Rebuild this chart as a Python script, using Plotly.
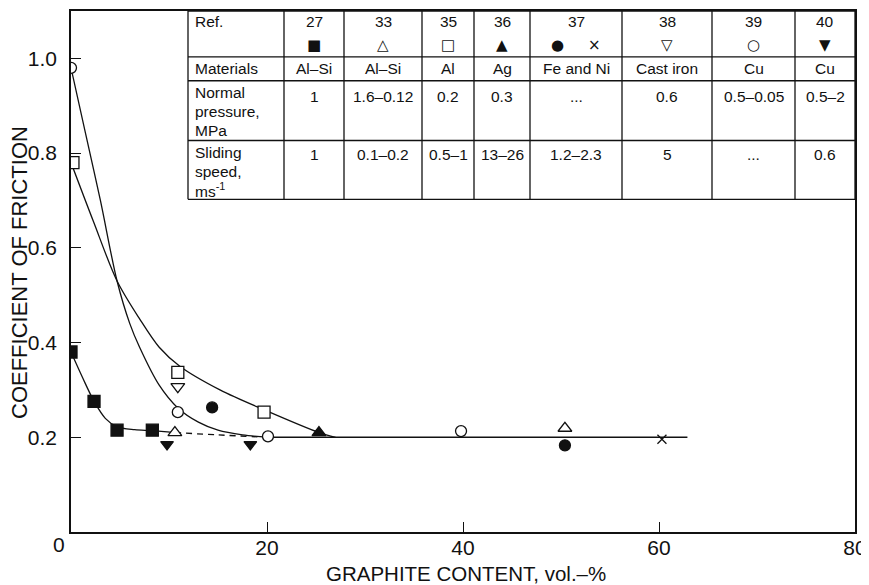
import plotly.graph_objects as go

# ---------------- data ----------------
# fitted curves
curve_cu_x = [0, 1.5, 3, 4.7, 6, 7, 9, 10.9, 13, 15, 17.5, 20]
curve_cu_y = [0.98, 0.84, 0.70, 0.53, 0.44, 0.39, 0.31, 0.262, 0.232, 0.215, 0.205, 0.2]
curve_al_x = [0, 2.3, 4.7, 7, 9, 11.1, 15.2, 19.7, 25.3, 27]
curve_al_y = [0.78, 0.655, 0.53, 0.45, 0.39, 0.35, 0.30, 0.258, 0.21, 0.2]
curve_alsi_x = [0, 1.2, 2.35, 3.5, 4.7, 6.5, 8.3, 10.6]
curve_alsi_y = [0.38, 0.325, 0.276, 0.24, 0.222, 0.216, 0.214, 0.21]
dash_x = [10.6, 15, 20]
dash_y = [0.21, 0.205, 0.2]
flat_x = [20, 62.9]
flat_y = [0.2, 0.2]

ref27_x = [0, 2.35, 4.7, 8.3];        ref27_y = [0.38, 0.276, 0.215, 0.215]
ref33_x = [10.6, 50.4];               ref33_y = [0.21, 0.219]
ref35_x = [0.2, 10.9, 19.7];          ref35_y = [0.78, 0.337, 0.253]
ref36_x = [25.3];                     ref36_y = [0.21]
ref37a_x = [14.4, 50.4];              ref37a_y = [0.263, 0.183]
ref37b_x = [60.3];                    ref37b_y = [0.196]
ref38_x = [10.9];                     ref38_y = [0.307]
ref39_x = [0, 10.9, 20.1, 39.8];      ref39_y = [0.98, 0.253, 0.202, 0.213]
ref40_x = [9.8, 18.3];                ref40_y = [0.185, 0.185]

x_ticks = [20, 40, 60, 80]
x_ticklabels = ["20", "40", "60", "80"]
y_ticks = [0.2, 0.4, 0.6, 0.8, 1.0]
y_ticklabels = ["0.2", "0.4", "0.6", "0.8", "1.0"]

tbl_refs = ["27", "33", "35", "36", "37", "38", "39", "40"]
tbl_syms = ["■", "△", "□", "▲", "●     ×", "▽", "○", "▼"]
tbl_materials = ["Al–Si", "Al–Si", "Al", "Ag", "Fe and Ni", "Cast iron", "Cu", "Cu"]
tbl_pressure = ["1", "1.6–0.12", "0.2", "0.3", "...", "0.6", "0.5–0.05", "0.5–2"]
tbl_speed = ["1", "0.1–0.2", "0.5–1", "13–26", "1.2–2.3", "5", "...", "0.6"]

# ---------------- layout geometry (page pixels) ----------------
OFF = 8  # page body margin
W, H = 869 - OFF, 585 - OFF
PL, PR, PT, PB = 71, 855, 9, 532
FONT = "Liberation Sans, Arial, sans-serif"

def px(x):
    return (x - PL) / (PR - PL)

def py(y):
    return (PB - y) / (PB - PT)

fig = go.Figure()
black = "#111111"

def line(xs, ys, dash="solid"):
    fig.add_trace(go.Scatter(x=xs, y=ys, mode="lines", line=dict(color=black, width=1.3, shape="spline", smoothing=0.9, dash=dash),
                             hoverinfo="skip", showlegend=False))

line(curve_cu_x, curve_cu_y)
line(curve_al_x, curve_al_y)
line(curve_alsi_x, curve_alsi_y)
line(dash_x, dash_y, dash="6px,5px")
line(flat_x, flat_y)

def pts(xs, ys, symbol, size, filled=True):
    fig.add_trace(go.Scatter(x=xs, y=ys, mode="markers", showlegend=False,
                             marker=dict(symbol=symbol, size=size,
                                         color=black if filled else "white",
                                         line=dict(color=black, width=1.3))))

pts(ref27_x, ref27_y, "square", 12)
pts(ref33_x, ref33_y, "triangle-up", 12, filled=False)
pts(ref35_x, ref35_y, "square", 12, filled=False)
pts(ref36_x, ref36_y, "triangle-up", 12)
pts(ref37a_x, ref37a_y, "circle", 11)
fig.add_trace(go.Scatter(x=ref37b_x, y=ref37b_y, mode="markers", showlegend=False,
                         marker=dict(symbol="x-thin", size=9, line=dict(color=black, width=1.3))))
pts(ref38_x, ref38_y, "triangle-down", 12, filled=False)
pts(ref39_x, ref39_y, "circle", 11, filled=False)
pts(ref40_x, ref40_y, "triangle-down", 11)

shapes = []
annotations = []

# ---------------- table ----------------
col_edges = [188, 284, 344, 422, 474, 530, 622, 712, 795, 855]
row_edges = [9, 55, 79, 139, 198]
for xe in col_edges:
    shapes.append(dict(type="line", xref="paper", yref="paper", x0=px(xe), x1=px(xe),
                       y0=py(row_edges[0]), y1=py(row_edges[-1]), line=dict(color=black, width=1.3)))
for ye in row_edges:
    shapes.append(dict(type="line", xref="paper", yref="paper", x0=px(col_edges[0]), x1=px(col_edges[-1]),
                       y0=py(ye), y1=py(ye), line=dict(color=black, width=1.3)))

TFS = 15.5

def txt(x, y, s, xanchor="center", size=TFS, family=FONT, angle=0):
    annotations.append(dict(x=px(x), y=py(y), xref="paper", yref="paper", text=s, showarrow=False, textangle=angle,
                            xanchor=xanchor, yanchor="middle", font=dict(family=family, size=size, color=black)))

txt(193, 20, "Ref.", xanchor="left")
txt(193, 67, "Materials", xanchor="left")
txt(193, 91, "Normal", xanchor="left")
txt(193, 110, "pressure,", xanchor="left")
txt(193, 129, "MPa", xanchor="left")
txt(193, 151, "Sliding", xanchor="left")
txt(193, 170, "speed,", xanchor="left")
txt(193, 189, "ms<sup>-1</sup>", xanchor="left")

for i in range(8):
    cx = (col_edges[i + 1] + col_edges[i + 2]) / 2
    txt(cx, 20, tbl_refs[i])
    txt(cx, 43, tbl_syms[i], size=15, family="DejaVu Sans")
    txt(cx, 67, tbl_materials[i])
    txt(cx, 95, tbl_pressure[i])
    txt(cx, 153, tbl_speed[i])

# axis titles and the lone "0"
txt(466, 574, "GRAPHITE CONTENT, vol.–%", size=20.5)
txt(20, 272, "COEFFICIENT OF FRICTION", size=22, angle=-90)
txt(59, 545, "0", size=21)

fig.update_layout(
    width=W, height=H,
    margin=dict(l=PL - OFF, r=W - (PR - OFF), t=PT - OFF, b=H - (PB - OFF)),
    paper_bgcolor="white", plot_bgcolor="white",
    shapes=shapes, annotations=annotations, showlegend=False,
    xaxis=dict(range=[0, 80], tickvals=x_ticks, ticktext=x_ticklabels, ticks="inside", ticklen=10,
               tickcolor=black, tickwidth=1.2, showline=True, linecolor=black, linewidth=1.5, mirror=True,
               showgrid=False, zeroline=False, ticklabelstandoff=-4, ticklabeloverflow="allow",
               tickfont=dict(family=FONT, size=21, color=black)),
    yaxis=dict(range=[0, 1.1], tickvals=y_ticks, ticktext=y_ticklabels, ticks="inside", ticklen=10,
               tickcolor=black, tickwidth=1.2, showline=True, linecolor=black, linewidth=1.5, mirror=True,
               showgrid=False, zeroline=False, ticklabelstandoff=8, tickfont=dict(family=FONT, size=21, color=black)),
)

fig.write_html("out.html")
